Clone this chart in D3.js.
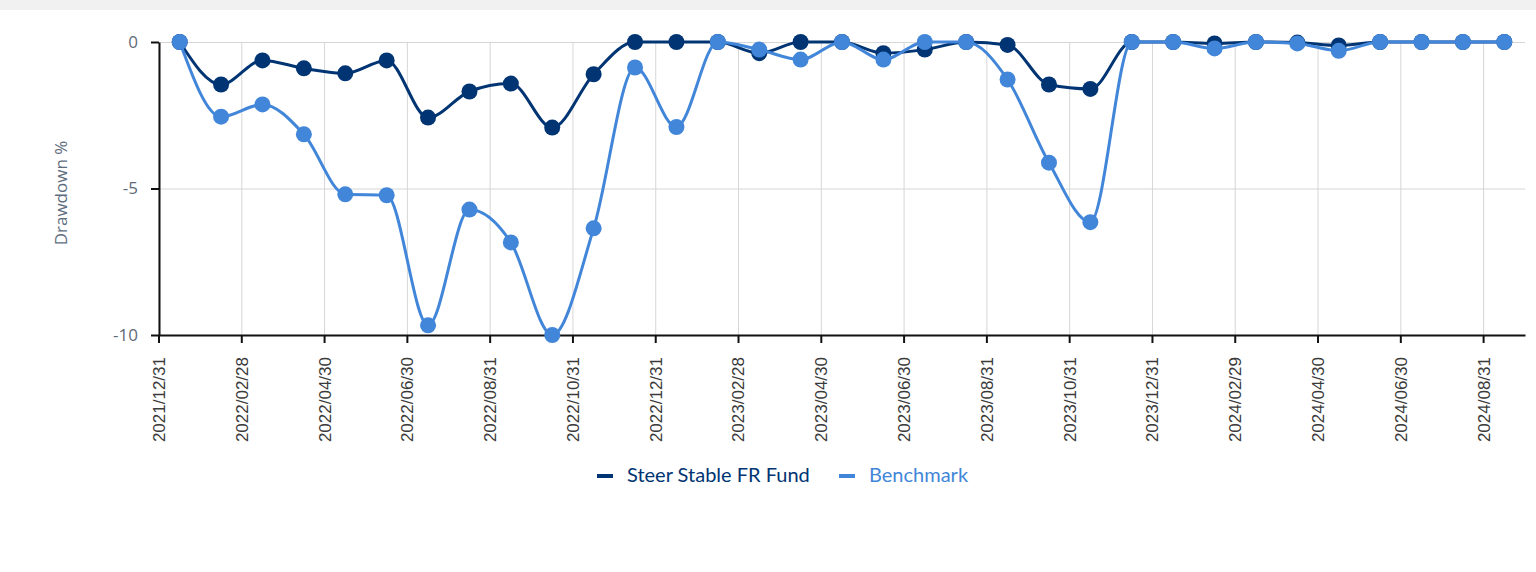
<html>
    <head>
        <meta charset="utf-8">
        <script src="https://d3js.org/d3.v7.min.js"></script>
        <style>
            body { margin: 0; background: #fff; }
            .grid line { stroke: #d6d6d6; stroke-width: 1; }
            .grid .domain { stroke: none; }
            .axis path, .axis line { stroke: #111; stroke-width: 2; }
        </style>
    </head>
    <body>
        <svg height="572" width="1536" id="chart"></svg>

        <script>
            // month-end categories
            const months = ["2021/12/31","2022/01/31","2022/02/28","2022/03/31","2022/04/30","2022/05/31","2022/06/30",
                "2022/07/31","2022/08/31","2022/09/30","2022/10/31","2022/11/30","2022/12/31","2023/01/31","2023/02/28",
                "2023/03/31","2023/04/30","2023/05/31","2023/06/30","2023/07/31","2023/08/31","2023/09/30","2023/10/31",
                "2023/11/30","2023/12/31","2024/01/31","2024/02/29","2024/03/31","2024/04/30","2024/05/31","2024/06/30",
                "2024/07/31","2024/08/31"];
            const fund = [0,-1.45,-0.63,-0.9,-1.07,-0.63,-2.58,-1.69,-1.42,-2.92,-1.1,0,0,0,-0.38,0,0,-0.38,-0.26,0,
                -0.1,-1.45,-1.6,0,0,-0.05,0,-0.02,-0.12,0,0,0,0];
            const bench = [0,-2.55,-2.13,-3.15,-5.2,-5.23,-9.67,-5.72,-6.84,-10,-6.36,-0.87,-2.9,0,-0.26,-0.6,0,-0.6,0,0,
                -1.28,-4.12,-6.15,0,0,-0.22,0,-0.05,-0.3,0,0,0,0];
            const yTicks = [0, -5, -10];
            const seriesNames = ["Steer Stable FR Fund", "Benchmark"];
            const colors = ["#003473", "#4286d9"];

            const svg = d3.select("#chart");
            const margin = { "top": 42, "left": 159, "right": 1525, "bottom": 335 };

            // top strip
            svg.append("rect").attr("x", 0).attr("y", 0).attr("width", 1536).attr("height", 10).attr("fill", "#f1f1f1");

            let xScale = d3.scaleBand().domain(months).range([margin.left, margin.right]);
            let yScale = d3.scaleLinear().domain([-10, 0]).range([margin.bottom, margin.top]);
            const bw = xScale.bandwidth();
            const labelled = months.filter((d, i) => i % 2 == 0);

            // gridlines
            svg.append("g").attr("class", "grid")
                .attr("transform", `translate(${margin.left},0)`)
                .call(d3.axisLeft(yScale).tickValues(yTicks).tickSize(-(margin.right - margin.left)).tickFormat(""));
            let vgrid = svg.append("g").attr("class", "grid")
                .attr("transform", `translate(0,${margin.bottom})`)
                .call(d3.axisBottom(xScale).tickValues(labelled).tickSize(-(margin.bottom - margin.top)).tickFormat(""));
            vgrid.selectAll(".tick").attr("transform", d => `translate(${xScale(d)},0)`);

            // axes
            let xAxis = svg.append("g").attr("class", "axis")
                .attr("transform", `translate(0,${margin.bottom})`)
                .call(d3.axisBottom(xScale).tickValues(labelled).tickSize(8).tickSizeOuter(0));
            xAxis.selectAll(".tick").attr("transform", d => `translate(${xScale(d)},0)`);
            xAxis.selectAll("text")
                .attr("transform", "rotate(-90)")
                .attr("x", -22).attr("y", 0).attr("dy", "0.35em")
                .style("text-anchor", "end")
                .style("font-family", "'Liberation Sans', Arial, sans-serif")
                .style("font-size", "17px")
                .attr("fill", "#3a3a3a");

            let yAxis = svg.append("g").attr("class", "axis")
                .attr("transform", `translate(${margin.left},0)`)
                .call(d3.axisLeft(yScale).tickValues(yTicks).tickSize(8).tickSizeOuter(0).tickFormat(d => String(d)));
            yAxis.selectAll("text")
                .attr("x", -21)
                .style("font-family", "'Open Sans', sans-serif")
                .style("font-size", "17px")
                .attr("fill", "#5f6b78");

            svg.append("text")
                .attr("transform", `translate(67,193) rotate(-90)`)
                .attr("text-anchor", "middle")
                .style("font-family", "'Open Sans', sans-serif")
                .style("font-size", "17px")
                .attr("fill", "#5d6d7e")
                .text("Drawdown %");

            // lines and dots
            const line = d3.line()
                .x((d, i) => xScale(months[i]) + bw / 2)
                .y(d => yScale(d))
                .curve(d3.curveMonotoneX);

            [fund, bench].forEach(function (values, s) {
                let g = svg.append("g").attr("class", "series");
                g.append("path")
                    .attr("d", line(values))
                    .attr("fill", "none")
                    .attr("stroke", colors[s])
                    .attr("stroke-width", 3);
                g.selectAll("circle").data(values).join("circle")
                    .attr("cx", (d, i) => xScale(months[i]) + bw / 2)
                    .attr("cy", d => yScale(d))
                    .attr("r", 8)
                    .attr("fill", colors[s]);
            });

            // legend
            const legendX = [597, 839];
            seriesNames.forEach(function (name, s) {
                svg.append("line")
                    .attr("x1", legendX[s]).attr("x2", legendX[s] + 16)
                    .attr("y1", 476).attr("y2", 476)
                    .attr("stroke", colors[s]).attr("stroke-width", 4);
                svg.append("text")
                    .attr("x", legendX[s] + 30).attr("y", 482)
                    .style("font-family", "Lato, sans-serif")
                    .style("font-size", "20px")
                    .attr("fill", colors[s])
                    .text(name);
            });
        </script>
    </body>
</html>
